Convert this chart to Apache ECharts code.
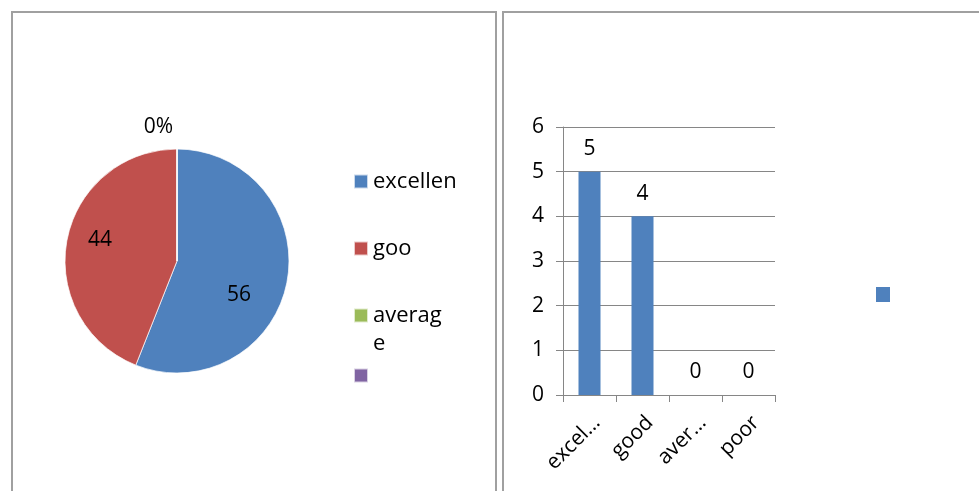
<!DOCTYPE html>
<html>
<head>
<meta charset="utf-8">
<script src="https://cdn.jsdelivr.net/npm/echarts@6/dist/echarts.min.js"></script>
<style>
html,body{margin:0;padding:0;background:#fff;}
#c{width:979px;height:491px;}
</style>
</head>
<body>
<div id="c"></div>
<script>
// ---- data ----
var categories = ['excellent', 'good', 'average', 'poor'];
var pieValues = [56, 44, 0, 0];
var legendLabels = ['excellen', 'goo', 'averag\ne', ''];
var barValues = [5, 4, 0, 0];
var xTickLabels = ['excel…', 'good', 'aver…', 'poor'];
var yTicks = [0, 1, 2, 3, 4, 5, 6];
var barSeriesName = 'count';

// ---- style ----
var FONT = '"Open Sans", "Noto Sans", sans-serif';
var FS = 21;
var colors = ['#4F81BD', '#C0504D', '#9BBB59', '#8064A2'];
var PIE_C = [177, 261], PIE_R = 112;
var LH = 28;
var legendCenters = [181.5, 248.5, 315.5, 381.5];

var chart = echarts.init(document.getElementById('c'), null, {renderer: 'canvas'});

var legends = categories.map(function (name, i) {
  var twoLines = legendLabels[i].indexOf('\n') >= 0;
  return {
    orient: 'vertical',
    left: 353,
    top: legendCenters[i] - (twoLines ? 1.5 * LH : 0.5 * LH),
    padding: 0,
    itemWidth: 14, itemHeight: 14,
    icon: 'rect',
    selectedMode: false,
    data: [{name: name, itemStyle: {color: colors[i]}}],
    // a blank first line keeps the first text line level with the icon
    formatter: function () { return twoLines ? '\u00a0\n' + legendLabels[i] : legendLabels[i]; },
    textStyle: {fontFamily: FONT, fontSize: 22, color: '#000', lineHeight: LH}
  };
});
legends.push({
  left: 876, top: 287, padding: 0,
  itemWidth: 14, itemHeight: 15,
  icon: 'rect',
  selectedMode: false,
  data: [barSeriesName],
  formatter: function () { return ''; },
  textStyle: {fontSize: 1}
});

var option = {
  animation: false,
  backgroundColor: '#fff',
  color: colors,
  legend: legends,
  graphic: [
    {type: 'rect', shape: {x: 12, y: 12, width: 484, height: 600},
     style: {fill: 'none', stroke: '#a0a0a0', lineWidth: 2}, silent: true, z: -1},
    {type: 'rect', shape: {x: 503, y: 12, width: 600, height: 600},
     style: {fill: 'none', stroke: '#a0a0a0', lineWidth: 2}, silent: true, z: -1}
  ],
  grid: {left: 563, right: 204, top: 127, bottom: 96, containLabel: false},
  xAxis: {
    type: 'category',
    data: categories,
    axisLine: {lineStyle: {color: '#868686', width: 1}},
    axisTick: {show: true, length: 7, lineStyle: {color: '#868686'}},
    axisLabel: {
      rotate: 45, margin: 17, color: '#000', fontFamily: FONT, fontSize: FS,
      interval: 0, align: 'right', verticalAlign: 'top',
      formatter: function (v, i) { return xTickLabels[i]; }
    }
  },
  yAxis: {
    type: 'value', min: 0, max: 6, interval: 1,
    axisLine: {show: true, lineStyle: {color: '#868686', width: 1}},
    axisTick: {show: true, length: 7, lineStyle: {color: '#868686'}},
    splitLine: {show: true, lineStyle: {color: '#868686', width: 1}},
    axisLabel: {margin: 19, color: '#000', fontFamily: FONT, fontSize: FS,
      formatter: function (v) { return yTicks.indexOf(v) >= 0 ? String(v) : ''; }}
  },
  series: [
    {
      type: 'bar',
      name: barSeriesName,
      data: barValues,
      barWidth: 22,
      itemStyle: {color: colors[0]},
      label: {show: true, position: 'top', distance: 12, color: '#000',
        fontFamily: FONT, fontSize: FS},
      silent: true
    },
    {
      type: 'pie',
      center: PIE_C,
      radius: PIE_R,
      startAngle: 90,
      clockwise: true,
      silent: true,
      stillShowZeroSum: true,
      avoidLabelOverlap: false,
      itemStyle: {borderColor: 'rgba(255,255,255,0.7)', borderWidth: 1},
      data: categories.map(function (name, i) {
        return {
          name: name, value: pieValues[i],
          label: {show: i !== 3}
        };
      }),
      label: {
        show: true, position: 'inside', color: '#000',
        fontFamily: FONT, fontSize: FS,
        formatter: function (p) { return p.value === 0 ? '0%' : String(p.value); }
      },
      labelLine: {show: false},
      labelLayout: function (p) {
        if (p.dataIndex === 0) return {dx: 4, dy: 23};
        if (p.dataIndex === 1) return {dx: -19, dy: -10};
        if (p.dataIndex === 2) return {x: PIE_C[0] - 4, y: PIE_C[1] - PIE_R - 22, align: 'right', verticalAlign: 'middle'};
        return {};
      }
    }
  ]
};
chart.setOption(option);
</script>
</body>
</html>
